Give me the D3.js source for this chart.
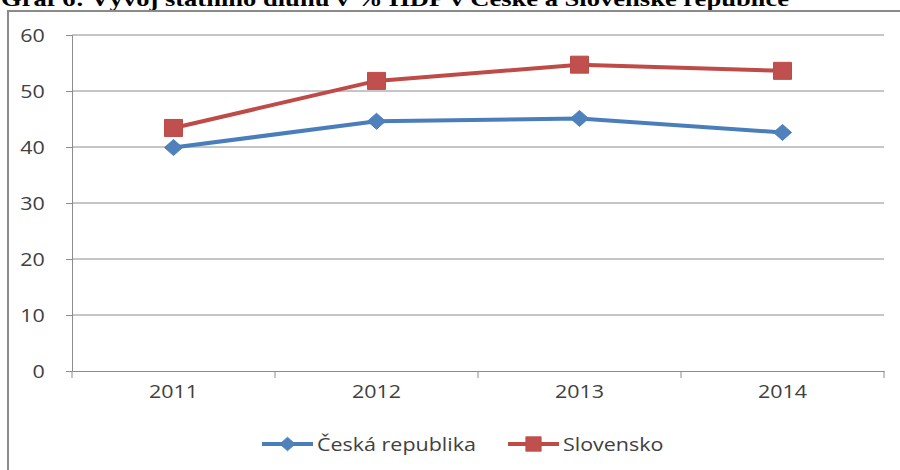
<!DOCTYPE html>
<html>
<head>
<meta charset="utf-8">
<script src="https://cdn.jsdelivr.net/npm/d3@7"></script>
<style>
  body { margin: 0; background: #fff; }
  .tick text, .lbl { font-family: "Open Sans", sans-serif; font-size: 19px; fill: #404040; }
</style>
</head>
<body>
<div id="chart"></div>
<script>
// data
let title = "Graf 6: Vývoj státního dluhu v % HDP v České a Slovenské republice";
let years = ["2011", "2012", "2013", "2014"];
let cz = [39.9, 44.6, 45.1, 42.6];
let sk = [43.4, 51.8, 54.7, 53.6];
let yTicks = [0, 10, 20, 30, 40, 50, 60];
let seriesNames = ["Česká republika", "Slovensko"];

let width = 900, height = 470;
let margin = {top: 35, right: 16, bottom: 99, left: 72};

let svg = d3.select("#chart")
    .append("svg")
    .attr("width", width)
    .attr("height", height);

// title, cut at top like the scan
svg.append("text")
    .attr("x", 1)
    .attr("y", 6)
    .attr("textLength", 788)
    .attr("lengthAdjust", "spacingAndGlyphs")
    .style("font-family", "'Liberation Serif', serif")
    .style("font-weight", "bold")
    .style("font-size", "22px")
    .style("fill", "#000")
    .text(title);

// chart border
svg.append("rect")
    .attr("x", 8)
    .attr("y", 11)
    .attr("width", 920)
    .attr("height", 500)
    .attr("fill", "none")
    .attr("stroke", "#8a8a8a")
    .attr("stroke-width", 2);

let x = d3.scaleBand()
    .domain(years)
    .range([margin.left, width - margin.right]);

let y = d3.scaleLinear()
    .domain([0, 60])
    .range([height - margin.bottom, margin.top]);

let sx = 1.13; // the scan is stretched sideways

// gridlines
svg.append("g")
    .selectAll("line")
    .data(yTicks.slice(1))
    .enter()
    .append("line")
    .attr("x1", margin.left)
    .attr("x2", width - margin.right)
    .attr("y1", d => y(d))
    .attr("y2", d => y(d))
    .attr("stroke", "#8c8c8c")
    .attr("stroke-width", 1);

// y axis
let yAxis = svg.append("g")
    .attr("transform", "translate(" + margin.left + ",0)")
    .call(d3.axisLeft(y).tickValues(yTicks).tickSize(6).tickPadding(18));
yAxis.select(".domain").attr("stroke", "#8c8c8c");
yAxis.selectAll(".tick line").attr("stroke", "#8c8c8c");
yAxis.selectAll(".tick text")
    .attr("dy", "0.36em")
    .attr("transform", "scale(" + sx + ",1)");

// x axis, labels centred in bands
let xAxis = svg.append("g")
    .attr("transform", "translate(0," + y(0) + ")")
    .call(d3.axisBottom(x).tickSize(0).tickPadding(14));
xAxis.select(".domain").attr("stroke", "#8c8c8c");
xAxis.selectAll(".tick text")
    .attr("transform", "scale(" + sx + ",1)");

// x tick marks on band edges
let edges = years.map(d => x(d)).concat([x.range()[1]]);
xAxis.selectAll(".edge")
    .data(edges)
    .enter()
    .append("line")
    .attr("class", "edge")
    .attr("x1", d => d)
    .attr("x2", d => d)
    .attr("y1", 0)
    .attr("y2", 7)
    .attr("stroke", "#8c8c8c");

let cx = d => x(d) + x.bandwidth() / 2;

let line = d3.line()
    .x((d, i) => cx(years[i]))
    .y(d => y(d));

let diamond = "M0,-8L9,0L0,8L-9,0Z";
let square = "M-9,-8.5H9V8.5H-9Z";

let series = [
    {name: seriesNames[0], values: cz, line: "#4a7ebb", fill: "#4f81bd", mark: diamond},
    {name: seriesNames[1], values: sk, line: "#be4b48", fill: "#c0504d", mark: square}
];

series.forEach(s => {
    svg.append("path")
        .datum(s.values)
        .attr("d", line)
        .attr("fill", "none")
        .attr("stroke", s.line)
        .attr("stroke-width", 4)
        .attr("stroke-linejoin", "round");

    svg.append("g")
        .selectAll("path")
        .data(s.values)
        .enter()
        .append("path")
        .attr("d", s.mark)
        .attr("transform", (d, i) => "translate(" + cx(years[i]) + "," + y(d) + ")")
        .attr("fill", s.fill)
        .attr("stroke", s.line)
        .attr("stroke-width", 1);
});

// legend
let legendX = [262, 508];
let legend = svg.append("g")
    .selectAll("g")
    .data(series)
    .enter()
    .append("g")
    .attr("transform", (d, i) => "translate(" + legendX[i] + ",444)");

legend.append("line")
    .attr("x1", 0)
    .attr("x2", 51)
    .attr("stroke", d => d.line)
    .attr("stroke-width", 4);

legend.append("path")
    .attr("d", d => d.mark)
    .attr("transform", "translate(25.5,0) scale(0.85)")
    .attr("fill", d => d.fill)
    .attr("stroke", d => d.line);

legend.append("text")
    .attr("class", "lbl")
    .attr("transform", "translate(55,0) scale(" + sx + ",1)")
    .attr("dy", "0.36em")
    .text(d => d.name);
</script>
</body>
</html>
